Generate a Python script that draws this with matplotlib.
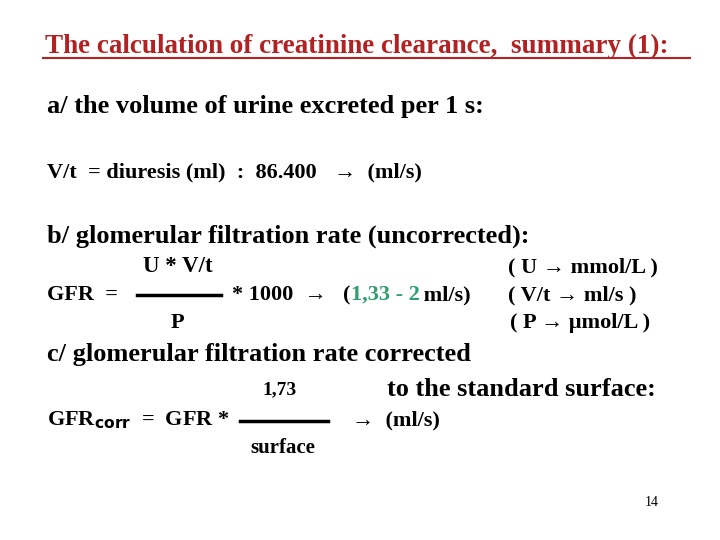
import matplotlib
matplotlib.use("Agg")
import matplotlib.pyplot as plt

plt.rcParams['font.family'] = ['Liberation Serif', 'DejaVu Serif']
plt.rcParams['font.weight'] = 'bold'
plt.rcParams['mathtext.default'] = 'regular'

W, H = 720, 540
DARK_RED = '#b22222'
GREEN = '#2e9e6e'

title = "The calculation of creatinine clearance,  summary (1):"
heading_a = "a/ the volume of urine excreted per 1 s:"
line_a = "V/t  = diuresis (ml)  :  86.400"
heading_b = "b/ glomerular filtration rate (uncorrected):"
heading_c = "c/ glomerular filtration rate corrected"
heading_c2 = "to the standard surface:"
page_no = "14"

fig = plt.figure(figsize=(W / 100, H / 100), dpi=100)


def txt(x, y, s, size=15, color='black', **kw):
    fig.text(x / W, 1 - y / H, s, fontsize=size, color=color, va='center', ha='left', **kw)


def hline(x0, x1, y, color='black', lw=2):
    fig.add_artist(plt.Line2D([x0 / W, x1 / W], [1 - y / H, 1 - y / H], color=color, lw=lw))


# title
txt(45, 46, title, 19.5, DARK_RED)
hline(43, 690, 58, DARK_RED, 1.5)

# a/
txt(47, 107, heading_a, 19)
txt(47, 172, line_a, 16)
txt(334, 172, "\u2192  (ml/s)", 16)

# b/
txt(47, 236, heading_b, 19)
txt(143, 267, "U * V/t", 16.5)
txt(47, 295, "GFR  =", 16)
hline(137, 221, 295, lw=2.5)
txt(232, 295, "* 1000  \u2192", 16)
txt(343, 295, "(", 16)
txt(351, 295, "1,33 - 2", 16, GREEN)
txt(418, 295, " ml/s)", 16)
txt(508, 267, "( U \u2192 mmol/L )", 16)
txt(508, 295, "( V/t \u2192 ml/s )", 16)
txt(171, 323, "P", 16)
txt(510, 323, "( P \u2192 \u03bcmol/L )", 16)

# c/
txt(47, 355, heading_c, 19)
txt(262, 390, "1,73", 14)
txt(387, 390, heading_c2, 19)
fig.text(47 / W, 1 - 420 / H, "GFR$_{\\mathbf{corr}}$  =  GFR *", fontsize=16, va='center')
hline(240, 328, 421, lw=2.5)
txt(352, 420, "\u2192  (ml/s)", 16)
txt(250, 448, "surface", 15)

txt(645, 503, page_no, 10, fontweight='normal')

fig.savefig("out.png", dpi=100)
